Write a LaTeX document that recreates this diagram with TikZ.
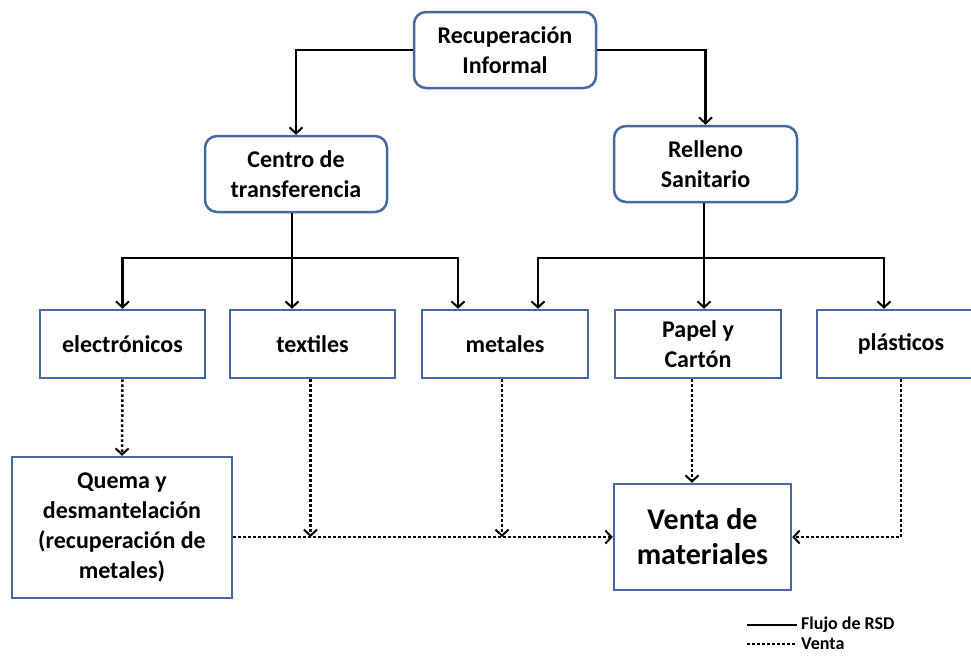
\documentclass[tikz,border=0pt]{standalone}
\usepackage{fontspec}
\setmainfont{Carlito}
\usetikzlibrary{arrows.meta}
\definecolor{boxblue}{RGB}{70,105,160}
\tikzset{
  base/.style={draw=boxblue, line width=2.5pt, fill=white, align=center, inner sep=2pt,
    font=\fontsize{24}{30}\selectfont\bfseries},
  rbox/.style={base, rounded corners=12pt},
  sbox/.style={base},
  flow/.style={line width=2.5pt, draw=black, -{Straight Barb[length=6pt,width=13pt,line width=2pt]}},
  flowline/.style={line width=2.5pt, draw=black},
  sale/.style={line width=2.5pt, draw=black, dash pattern=on 2.5pt off 2.5pt, -{Straight Barb[length=6pt,width=13pt,line width=2pt]}},
  saleline/.style={line width=2.5pt, draw=black, dash pattern=on 2.5pt off 2.5pt},
}
\begin{document}
\begin{tikzpicture}[x=1pt,y=-1pt]
\useasboundingbox (0,0) rectangle (971,656);
\clip (0,0) rectangle (971,656);
% boxes
\node[rbox, minimum width=182pt, minimum height=76pt] (recup) at (505,50) {Recuperación\\Informal};
\node[rbox, minimum width=182pt, minimum height=76pt] (centro) at (296,174) {Centro de\\transferencia};
\node[rbox, minimum width=183pt, minimum height=76pt] (relleno) at (705.5,164) {Relleno\\Sanitario};
\node[sbox, minimum width=165pt, minimum height=68pt] (elec) at (122.5,344) {electrónicos};
\node[sbox, minimum width=165pt, minimum height=68pt] (text) at (312.5,344) {textiles};
\node[sbox, minimum width=166pt, minimum height=68pt] (meta) at (505,344) {metales};
\node[sbox, minimum width=166pt, minimum height=68pt] (papel) at (698,344) {Papel y\\Cartón};
\node[sbox, minimum width=168pt, minimum height=68pt] (plas) at (901,344) {plásticos};
\node[sbox, minimum width=220pt, minimum height=141pt] (quema) at (122,527.5) {Quema y\\desmantelación\\(recuperación de\\metales)};
\node[sbox, minimum width=177pt, minimum height=106pt, font=\fontsize{30}{35}\selectfont\bfseries] (venta) at (702.5,537) {Venta de\\materiales};
% top connectors
\draw[flow] (recup.west) -| (centro.north);
\draw[flow] (recup.east) -| (relleno.north);
% centro bus
\coordinate (cb) at ([xshift=-4pt]centro.south |- 0,258);
\draw[flowline] ([xshift=-4pt]centro.south) -- (cb);
\draw[flow] (cb) -| (elec.north);
\draw[flow] (cb) -- (cb |- text.north);
\draw[flow] (cb) -| ([xshift=-47pt]meta.north);
% relleno bus
\coordinate (rb) at ([xshift=-1.5pt]relleno.south |- 0,258);
\draw[flowline] ([xshift=-1.5pt]relleno.south) -- (rb);
\draw[flow] (rb) -| ([xshift=33pt]meta.north);
\draw[flow] (rb) -- (rb |- papel.north);
\draw[flow] (rb) -| ([xshift=-17pt]plas.north);
% sales
\draw[sale] (elec.south) -- (quema.north);
\draw[sale] (quema.east |- venta.west) -- (venta.west);
\draw[sale] ([xshift=-2pt]text.south) -- ([xshift=-2pt]text.south |- venta.west);
\draw[sale] ([xshift=-3pt]meta.south) -- ([xshift=-3pt]meta.south |- venta.west);
\draw[sale] ([xshift=-6pt]papel.south) -- ([xshift=-6pt]papel.south |- venta.north);
\draw[sale] (plas.south) |- (venta.east);
% legend
\coordinate (la) at (747,625);
\coordinate (lb) at (797,625);
\coordinate (lc) at (747,644);
\coordinate (ld) at (797,644);
\draw[flowline] (la) -- (lb);
\draw[saleline] (lc) -- (ld);
\node[anchor=west, inner sep=4pt, font=\fontsize{18}{20}\selectfont\bfseries] (l1) at (lb) {Flujo de RSD};
\node[anchor=west, inner sep=4pt, font=\fontsize{18}{20}\selectfont\bfseries] (l2) at (ld) {Venta};
\end{tikzpicture}
\end{document}
